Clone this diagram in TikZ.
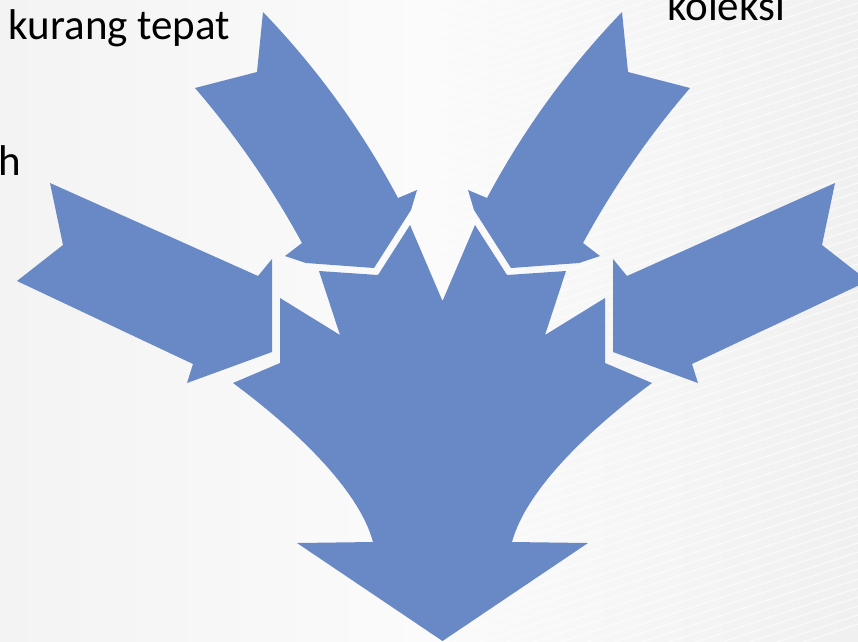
\documentclass[tikz,border=0pt]{standalone}
\usepackage{fontspec}
\setmainfont{Carlito}
\definecolor{arrowblue}{RGB}{105,136,198}
\definecolor{bgL}{RGB}{243,243,243}
\definecolor{bgM}{RGB}{251,251,251}
\definecolor{bgR}{RGB}{240,240,240}
\newcommand\ArrSide{(50,183) -- (258,276) -- (272,259) -- (272,352) -- (187,383) -- (193,364) -- (17,281) -- (63,245) -- cycle}
\newcommand\ArrTop{(263,12) .. controls (316.6,67.7) and (361.6,129.7) .. (398,198) -- (417,190) -- (411,210) -- (374,268) -- (306,263) -- (285,256) -- (302,243) .. controls (271.8,187.5) and (236.2,135.9) .. (195,88) -- (257,72) -- cycle}
\begin{document}
\begin{tikzpicture}[x=1pt,y=-1pt,
  shapefill/.style={fill=arrowblue},
  lbl/.style={inner sep=0pt, font=\fontsize{43}{51}\selectfont, text=black}]
\useasboundingbox (0,0) rectangle (858,641);
% background
\shade[left color=bgL, right color=bgR, middle color=bgM] (0,0) rectangle (858,641);
\begin{scope}
  \clip (430,0) rectangle (858,641);
  \foreach \k in {0,...,90} {
    \draw[white, line width=1.2pt, opacity=0.6] (300,{\k*9}) -- ++(600,-200);
  }
\end{scope}
% side arrows
\fill[shapefill] \ArrSide;
\begin{scope}[xshift=885pt, xscale=-1]
  \fill[shapefill] \ArrSide;
\end{scope}
% top arrows
\fill[shapefill] \ArrTop;
\begin{scope}[xshift=885pt, xscale=-1]
  \fill[shapefill] \ArrTop;
\end{scope}
% central converging arrow
\fill[shapefill] (442.5,641) -- (297,543) -- (373,542)
  .. controls (358.8,488.9) and (293.3,427.6) .. (233,383)
  -- (280,363) -- (280,298) -- (340,335) -- (319,271) -- (378,275)
  -- (410,225) -- (442.5,301) -- (475,225) -- (507,275) -- (566,271)
  -- (545,335) -- (605,298) -- (605,363) -- (652,383)
  .. controls (591.7,427.6) and (526.2,488.9) .. (512,542)
  -- (588,543) -- cycle;
% labels
\node[lbl, anchor=base west] (t1) at (8.5,39) {kurang tepat};
\node[lbl, anchor=base west] (t2) at (667,20.5) {koleksi};
\node[lbl, anchor=base west] (t3) at (-2,175) {h};
\end{tikzpicture}
\end{document}
